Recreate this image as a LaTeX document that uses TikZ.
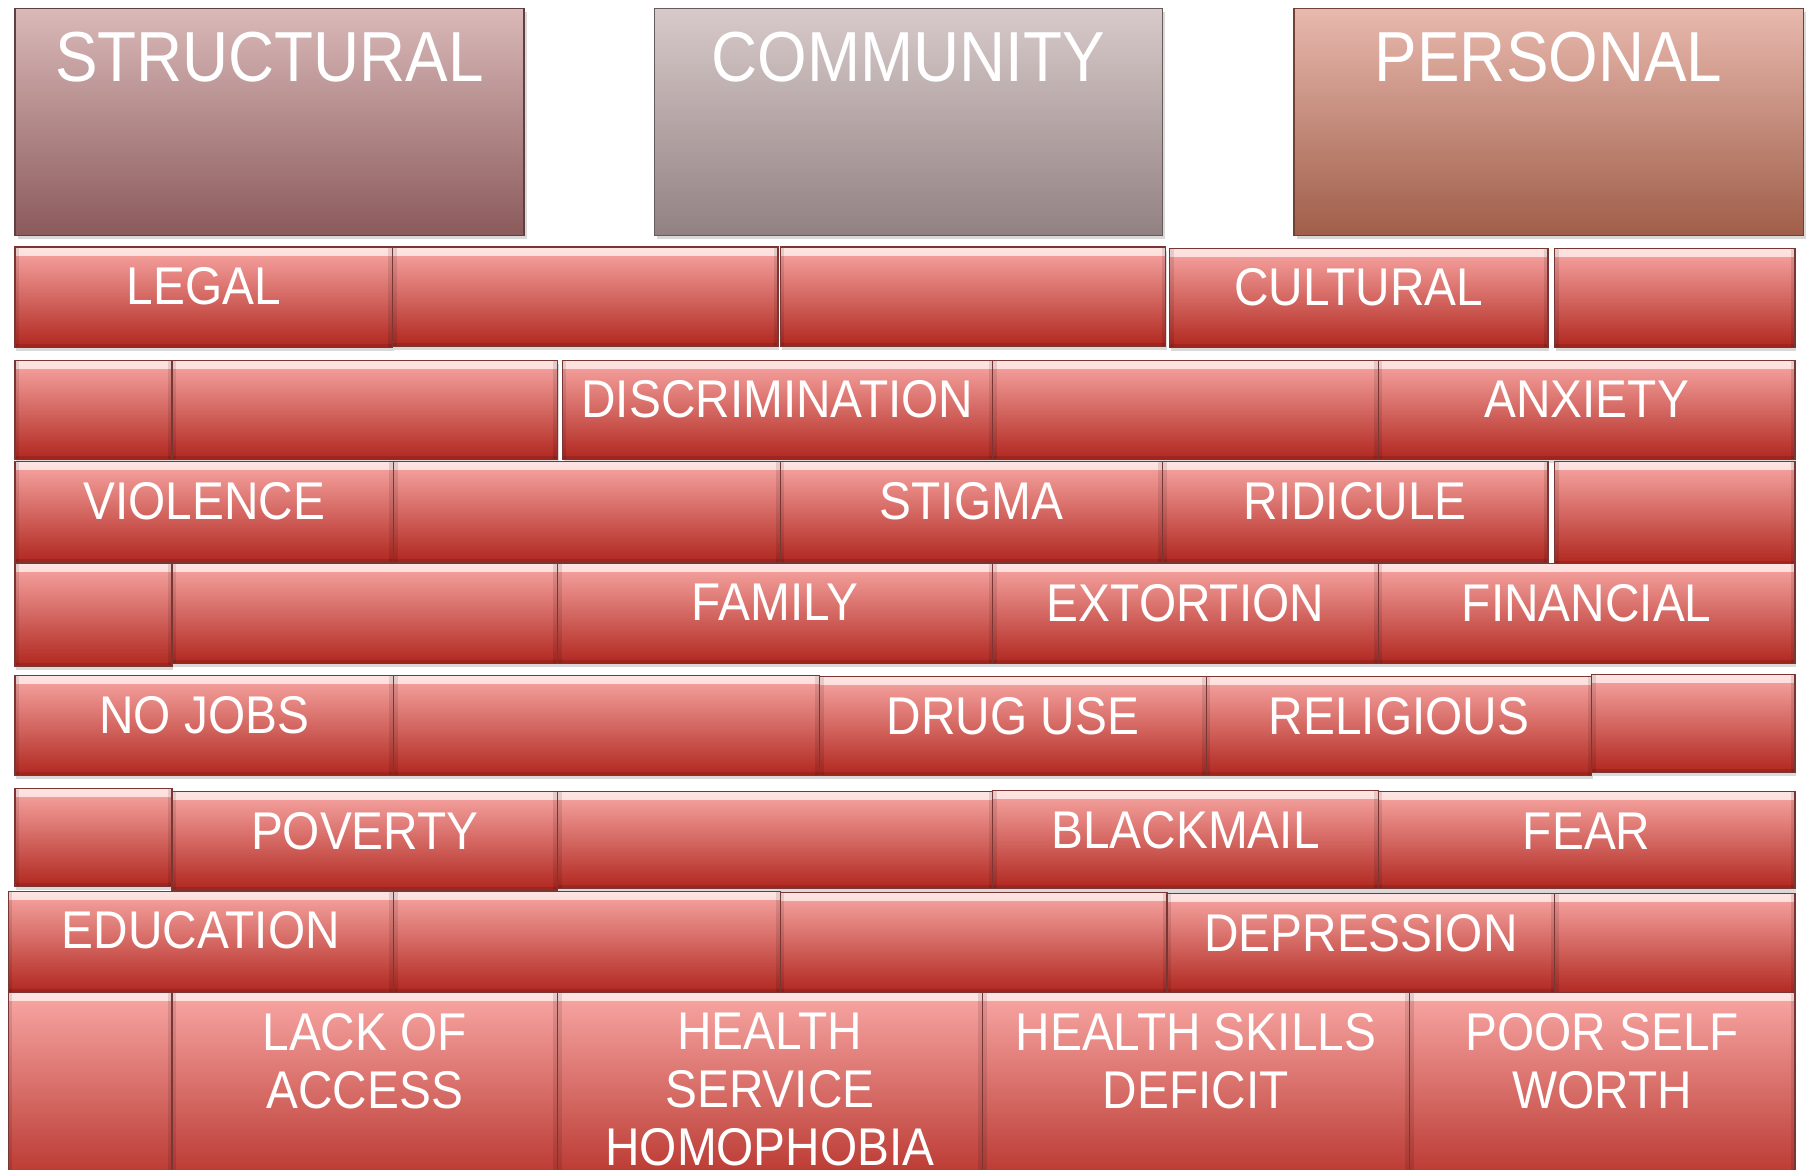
\documentclass[tikz,border=0pt]{standalone}
\usepackage{fontspec}
\setmainfont[FakeStretch=0.9]{Liberation Sans}
\usetikzlibrary{shadows}
\definecolor{brickTop}{HTML}{F8A7A4}
\definecolor{brickMid}{HTML}{E27C77}
\definecolor{brickBot}{HTML}{B0271F}
\definecolor{brickHi}{HTML}{FDE4E2}
\definecolor{brickEdge}{HTML}{7A3535}
\definecolor{stTop}{HTML}{DAB9B9}
\definecolor{stMid}{HTML}{B08889}
\definecolor{stBot}{HTML}{8B5A5B}
\definecolor{coTop}{HTML}{D8CACA}
\definecolor{coMid}{HTML}{B3A3A4}
\definecolor{coBot}{HTML}{928182}
\definecolor{peTop}{HTML}{E8B9AE}
\definecolor{peMid}{HTML}{C48C7C}
\definecolor{peBot}{HTML}{9F5E49}
\tikzset{
  brick/.style={draw=brickEdge, line width=0.5pt, inner sep=0pt, rectangle,
    top color=brickTop, middle color=brickMid, bottom color=brickBot,
    drop shadow={shadow xshift=0.6pt, shadow yshift=-1.6pt, opacity=0.3},
    path picture={
      \shade[top color=brickHi, bottom color=brickTop]
        (path picture bounding box.north west) rectangle ([yshift=-3.5pt]path picture bounding box.north east);
      \fill[black, opacity=0.10]
        (path picture bounding box.north west) rectangle ([xshift=1.8pt]path picture bounding box.south west);
      \fill[black, opacity=0.10]
        (path picture bounding box.north east) rectangle ([xshift=-1.8pt]path picture bounding box.south east);
      \fill[black, opacity=0.10]
        (path picture bounding box.south west) rectangle ([yshift=1.5pt]path picture bounding box.south east);
    }},
  lbl/.style={text=white, inner sep=0pt, align=center, anchor=north,
    font=\fontsize{23}{25}\selectfont},
  titlebox/.style={draw=#1Bot!70!black, line width=0.5pt, inner sep=0pt, rectangle,
    top color=#1Top, middle color=#1Mid, bottom color=#1Bot,
    drop shadow={shadow xshift=1.2pt, shadow yshift=-1.6pt, opacity=0.3}},
  ttl/.style={text=white, inner sep=0pt, anchor=north,
    font=\fontsize{30.7}{33}\selectfont}
}
\newcommand\brk[5]{%
  \node[brick, minimum width={(#4-#2)*0.5pt}, minimum height={(#5-#3)*0.5pt}]
    (#1) at ({(#2+#4)/2},{(#3+#5)/2}) {};}
\newcommand\brkl[6]{%
  \brk{#1}{#2}{#3}{#4}{#5}%
  \node[lbl] (#1t) at ([yshift=-9pt]#1.north) {#6};}
\newcommand\ttlbox[6]{%
  \node[titlebox=#6, minimum width={(#4-#2)*0.5pt}, minimum height={(#5-#3)*0.5pt}]
    (#1) at ({(#2+#4)/2},{(#3+#5)/2}) {};
  \node[ttl] (#1t) at ([yshift=-10.5pt]#1.north) {#1};}
\begin{document}
\begin{tikzpicture}[x=0.5pt,y=-0.5pt]
\useasboundingbox (0,0) rectangle (1568,1013);
\clip (0,0) rectangle (1568,1013);
% title boxes
\node[titlebox=st, minimum width={441*0.5pt}, minimum height={197*0.5pt}] (structural) at (233.5,105.5) {};
\node[ttl] (structuralt) at ([yshift=-10.5pt]structural.north) {STRUCTURAL};
\node[titlebox=co, minimum width={440*0.5pt}, minimum height={197*0.5pt}] (community) at (787,105.5) {};
\node[ttl] (communityt) at ([yshift=-10.5pt]community.north) {COMMUNITY};
\node[titlebox=pe, minimum width={441*0.5pt}, minimum height={197*0.5pt}] (personal) at (1341.5,105.5) {};
\node[ttl] (personalt) at ([yshift=-10.5pt]personal.north) {PERSONAL};
% row 1
\brkl{ra1}{13}{214}{340}{301}{LEGAL}
\brk{ra2}{340}{214}{674}{300}
\brk{ra3}{676}{214}{1010}{300}
\brkl{ra4}{1013}{215}{1341}{301}{CULTURAL}
\brk{ra5}{1347}{215}{1555}{301}
% row 2
\brk{rb1}{13}{312}{149}{398}
\brk{rb2}{149}{312}{483}{398}
\brkl{rb3}{487}{312}{860}{398}{DISCRIMINATION}
\brk{rb4}{860}{312}{1194}{398}
\brkl{rb5}{1194}{312}{1555}{398}{ANXIETY}
% row 3
\brkl{rc1}{13}{400}{341}{487}{VIOLENCE}
\brk{rc2}{341}{400}{676}{487}
\brkl{rc3}{676}{400}{1007}{487}{STIGMA}
\brkl{rc4}{1007}{400}{1341}{487}{RIDICULE}
\brk{rc5}{1347}{400}{1555}{489}
% row 4
\brk{rd1}{13}{488}{149}{577}
\brk{rd2}{149}{488}{483}{575}
\brkl{rd3}{483}{488}{860}{575}{FAMILY}
\brkl{rd4}{860}{488}{1194}{575}{EXTORTION}
\brkl{rd5}{1194}{488}{1555}{575}{FINANCIAL}
% row 5
\brkl{re1}{13}{585}{341}{672}{NO JOBS}
\brk{re2}{341}{585}{710}{672}
\brkl{re3}{710}{586}{1045}{672}{DRUG USE}
\brkl{re4}{1045}{586}{1379}{672}{RELIGIOUS}
\brk{re5}{1379}{584}{1555}{669}
% row 6
\brk{rf1}{13}{683}{149}{768}
\brkl{rf2}{149}{686}{483}{771}{POVERTY}
\brk{rf3}{483}{686}{860}{770}
\brkl{rf4}{860}{685}{1194}{770}{BLACKMAIL}
\brkl{rf5}{1194}{686}{1555}{770}{FEAR}
% row 7
\brkl{rg1}{7}{772}{341}{860}{EDUCATION}
\brk{rg2}{341}{772}{676}{860}
\brk{rg3}{676}{773}{1011}{860}
\brkl{rg4}{1011}{774}{1347}{860}{DEPRESSION}
\brk{rg5}{1347}{774}{1555}{862}
% row 8
\brk{rh1}{7}{860}{149}{1045}
\brkl{rh2}{149}{860}{483}{1045}{LACK OF\\ACCESS}
\brkl{rh3}{483}{860}{851}{1045}{HEALTH\\SERVICE\\HOMOPHOBIA}
\brkl{rh4}{851}{860}{1221}{1045}{HEALTH SKILLS\\DEFICIT}
\brkl{rh5}{1221}{860}{1555}{1045}{POOR SELF\\WORTH}
\end{tikzpicture}
\end{document}
